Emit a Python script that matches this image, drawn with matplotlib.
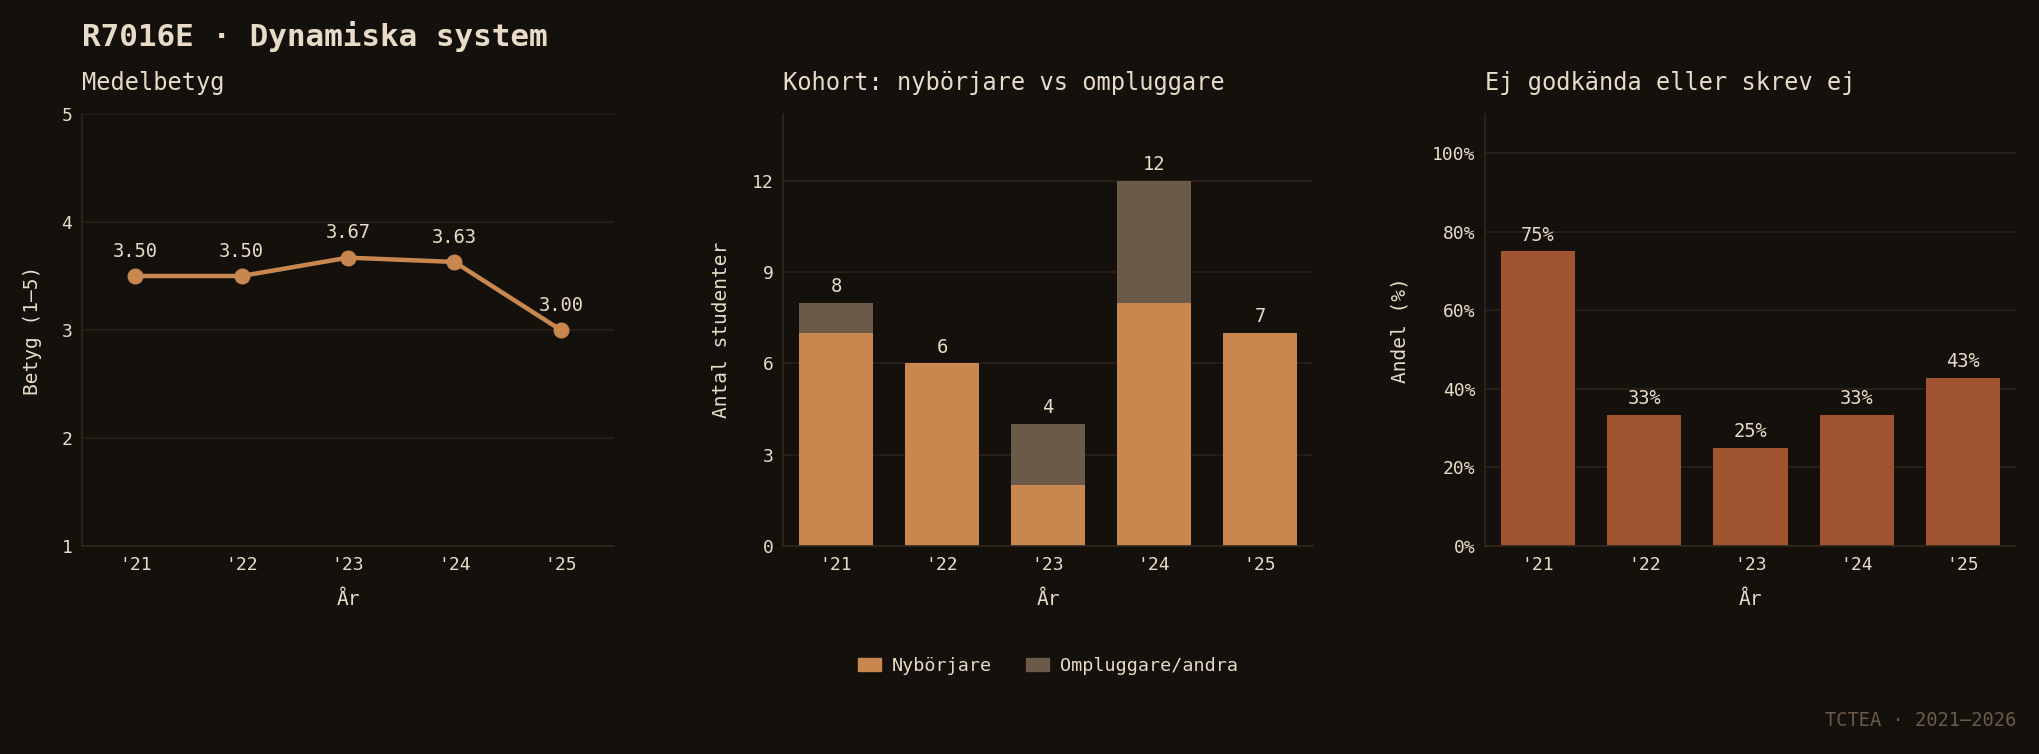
import matplotlib
matplotlib.use("Agg")
import matplotlib.pyplot as plt
from matplotlib.patches import Patch
from matplotlib.ticker import FuncFormatter

# data
years = ["'21", "'22", "'23", "'24", "'25"]
mean_grade = [3.50, 3.50, 3.67, 3.63, 3.00]
beginners = [7, 6, 2, 8, 7]
retakers = [1, 0, 2, 4, 0]
fail_pct = [75.0, 33.3, 25.0, 33.3, 42.9]

BG = "#14100b"
TXT = "#e8dcc8"
GRID = "#2a221a"
SPINE = "#30271e"
ORANGE = "#c8874f"
BROWN = "#6b5a48"
SIENNA = "#a0532f"

plt.rcParams["font.family"] = ["DejaVu Sans Mono"]
plt.rcParams["text.color"] = TXT
plt.rcParams["axes.labelcolor"] = TXT
plt.rcParams["xtick.color"] = TXT
plt.rcParams["ytick.color"] = TXT

fig = plt.figure(figsize=(20.39, 7.54), dpi=100, facecolor=BG)

W, H = 2039, 754
def box(l, r, top=114, bot=546):
    return [l / W, 1 - bot / H, (r - l) / W, (bot - top) / H]

ax1 = fig.add_axes(box(82, 614))
ax2 = fig.add_axes(box(783, 1313))
ax3 = fig.add_axes(box(1485, 2016))

x = list(range(len(years)))

def style(ax, title, ylabel, lpad):
    ax.set_facecolor(BG)
    for s in ["top", "right"]:
        ax.spines[s].set_visible(False)
    for s in ["left", "bottom"]:
        ax.spines[s].set_color(SPINE)
        ax.spines[s].set_linewidth(1.2)
    ax.grid(axis="y", color=GRID, linewidth=1.2)
    ax.set_axisbelow(True)
    ax.tick_params(length=0, labelsize=13, pad=7)
    ax.set_xticks(x)
    ax.set_xticklabels(years)
    ax.set_xlim(-0.5, 4.5)
    ax.set_title(title, loc="left", fontsize=17, color=TXT, pad=17)
    ax.set_xlabel("År", fontsize=14, labelpad=12)
    ax.set_ylabel(ylabel, fontsize=14, labelpad=lpad)

# panel 1 - mean grade
style(ax1, "Medelbetyg", "Betyg (1–5)", 14)
ax1.plot(x, mean_grade, color=ORANGE, linewidth=3.2, marker="o", markersize=10.5)
ax1.set_ylim(1, 5)
ax1.set_yticks([1, 2, 3, 4, 5])
for xi, v in zip(x, mean_grade):
    ax1.annotate(f"{v:.2f}", (xi, v), xytext=(0, 11), textcoords="offset points",
                 ha="center", va="bottom", fontsize=13.5, color=TXT)

# panel 2 - cohort
style(ax2, "Kohort: nybörjare vs ompluggare", "Antal studenter", 15)
ax2.bar(x, beginners, width=0.7, color=ORANGE)
ax2.bar(x, retakers, width=0.7, bottom=beginners, color=BROWN)
ax2.set_ylim(0, 14.2)
ax2.set_yticks([0, 3, 6, 9, 12])
for xi, b, r in zip(x, beginners, retakers):
    ax2.annotate(f"{b + r}", (xi, b + r), xytext=(0, 5), textcoords="offset points",
                 ha="center", va="bottom", fontsize=13.5, color=TXT)

# panel 3 - fail share
style(ax3, "Ej godkända eller skrev ej", "Andel (%)", 16)
ax3.bar(x, fail_pct, width=0.7, color=SIENNA)
ax3.set_ylim(0, 110)
ax3.set_yticks([0, 20, 40, 60, 80, 100])
ax3.yaxis.set_major_formatter(FuncFormatter(lambda v, p: f"{v:.0f}%"))
for xi, v in zip(x, fail_pct):
    ax3.annotate(f"{v:.0f}%", (xi, v), xytext=(0, 5), textcoords="offset points",
                 ha="center", va="bottom", fontsize=13.5, color=TXT)

fig.text(82 / W, 1 - 36 / H, "R7016E · Dynamiska system", fontsize=22.3,
         fontweight="bold", color=TXT, ha="left", va="center")

handles = [Patch(color=ORANGE, label="Nybörjare"), Patch(color=BROWN, label="Ompluggare/andra")]
fig.legend(handles=handles, loc="center", bbox_to_anchor=(1048 / W, 1 - 666 / H), ncol=2,
           frameon=False, fontsize=13.2, handlelength=1.25, handleheight=0.7,
           handletextpad=0.6, columnspacing=1.9, labelcolor=TXT)

fig.text(2016 / W, 1 - 720 / H, "TCTEA · 2021–2026", fontsize=13.5, color="#6b5a48",
         ha="right", va="center")

fig.savefig("out.png", dpi=100, facecolor=BG)
